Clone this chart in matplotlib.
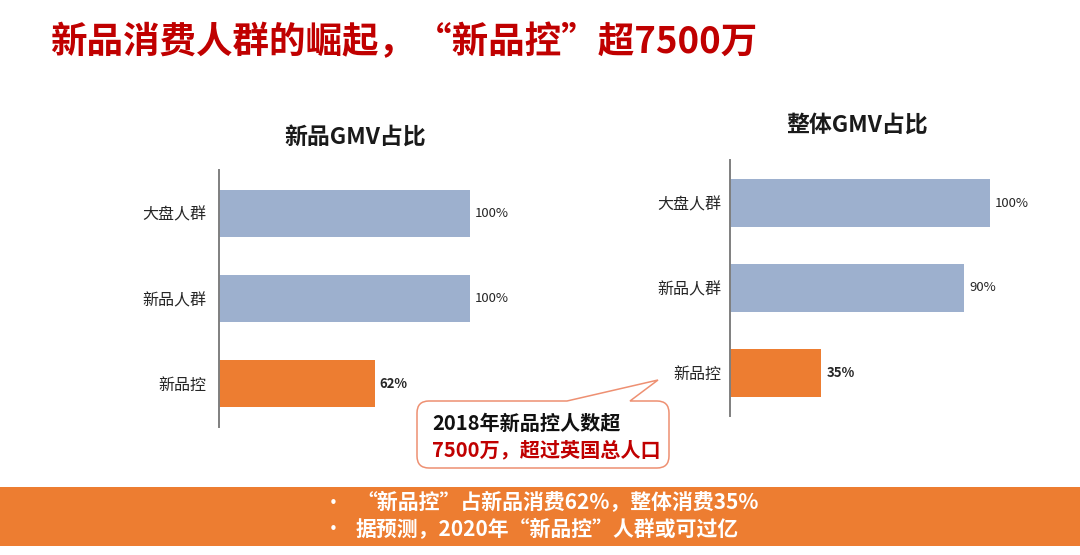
import matplotlib
matplotlib.use("Agg")
import matplotlib.pyplot as plt
from matplotlib.path import Path
from matplotlib.patches import PathPatch, Rectangle

plt.rcParams['font.family'] = ['Noto Sans CJK SC', 'DejaVu Sans']

# ---- data ----
categories = ["大盘人群", "新品人群", "新品控"]
left_values = [100, 100, 62]
right_values = [100, 90, 35]
left_title = "新品GMV占比"
right_title = "整体GMV占比"
main_title = "新品消费人群的崛起，“新品控”超7500万"
callout_line1 = "2018年新品控人数超"
callout_line2 = "7500万，超过英国总人口"
bullet_lines = ["“新品控”占新品消费62%，整体消费35%",
                "据预测，2020年“新品控”人群或可过亿"]

W, H = 1080, 555
BLUE = "#9DB0CE"
ORANGE = "#ED7D31"
DARK_RED = "#C00000"
bar_colors = [BLUE, BLUE, ORANGE]

fig = plt.figure(figsize=(W / 100, H / 100), dpi=100)
fig.patch.set_facecolor("white")


def px_axes(x0, y0, x1, y1, **kw):
    """axes from pixel box (top-left origin)"""
    return fig.add_axes([x0 / W, 1 - y1 / H, (x1 - x0) / W, (y1 - y0) / H], **kw)


def bar_chart(ax, values, height, pad_pt):
    y = list(range(len(categories)))
    bars = ax.barh(y, values, height=height, color=bar_colors, zorder=2)
    ax.set_xlim(0, 100)
    ax.set_ylim(2.51, -0.51)
    ax.set_yticks(y)
    ax.set_yticklabels(categories, fontsize=11.5, color="#262626")
    ax.tick_params(axis="y", length=0, pad=pad_pt)
    ax.set_xticks([])
    for s in ["top", "right", "bottom"]:
        ax.spines[s].set_visible(False)
    ax.spines["left"].set_color("#7f7f7f")
    ax.spines["left"].set_linewidth(1.4)
    ax.patch.set_visible(False)
    for i, (b, v) in enumerate(zip(bars, values)):
        ax.text(v + 2, i, f"{v}%", va="center", ha="left", fontsize=9.5,
                color="#262626", fontweight="bold" if i == 2 else "normal",
                clip_on=False)


axL = px_axes(219, 170, 219 + 251, 427)
bar_chart(axL, left_values, 0.55, 9)
axR = px_axes(730, 160, 730 + 260, 416)
bar_chart(axR, right_values, 0.56, 6)

# ---- overlay in pixel coordinates ----
ov = fig.add_axes([0, 0, 1, 1])
ov.set_xlim(0, W)
ov.set_ylim(H, 0)
ov.axis("off")
ov.patch.set_visible(False)
ov.set_zorder(5)

ov.text(50, 43, main_title, fontsize=26.3, fontweight="bold", color=DARK_RED,
        ha="left", va="center")
ov.text(355, 137, left_title, fontsize=16.5, fontweight="bold", color="#1a1a1a",
        ha="center", va="center")
ov.text(857, 125, right_title, fontsize=16.5, fontweight="bold", color="#1a1a1a",
        ha="center", va="center")

# callout bubble
l, r, t, b, rad = 417, 669, 401, 468, 12
verts = [(l + rad, t), (567, t), (658, 380), (630, t), (r - rad, t),
         (r, t), (r, t + rad), (r, b - rad), (r, b), (r - rad, b),
         (l + rad, b), (l, b), (l, b - rad), (l, t + rad), (l, t), (l + rad, t),
         (l + rad, t)]
codes = [Path.MOVETO, Path.LINETO, Path.LINETO, Path.LINETO, Path.LINETO,
         Path.CURVE3, Path.CURVE3, Path.LINETO, Path.CURVE3, Path.CURVE3,
         Path.LINETO, Path.CURVE3, Path.CURVE3, Path.LINETO, Path.CURVE3, Path.CURVE3,
         Path.CLOSEPOLY]
ov.add_patch(PathPatch(Path(verts, codes), facecolor="white", edgecolor="#EE9072",
                       linewidth=1.1))
ov.text(432, 423, callout_line1, fontsize=14.5, fontweight="bold", color="#111111",
        ha="left", va="center")
ov.text(432, 450, callout_line2, fontsize=14.5, fontweight="bold", color=DARK_RED,
        ha="left", va="center")

# bottom band
ov.add_patch(Rectangle((0, 487), W, 59, facecolor=ORANGE, edgecolor="none"))
for yy, line in zip([503, 530], bullet_lines):
    ov.text(333, yy, "•", fontsize=11, color="white", ha="center", va="center",
            family="DejaVu Sans")
    ov.text(356, yy, line, fontsize=15, fontweight="bold", color="white",
            ha="left", va="center")

fig.savefig("out.png", dpi=100, facecolor="white")
